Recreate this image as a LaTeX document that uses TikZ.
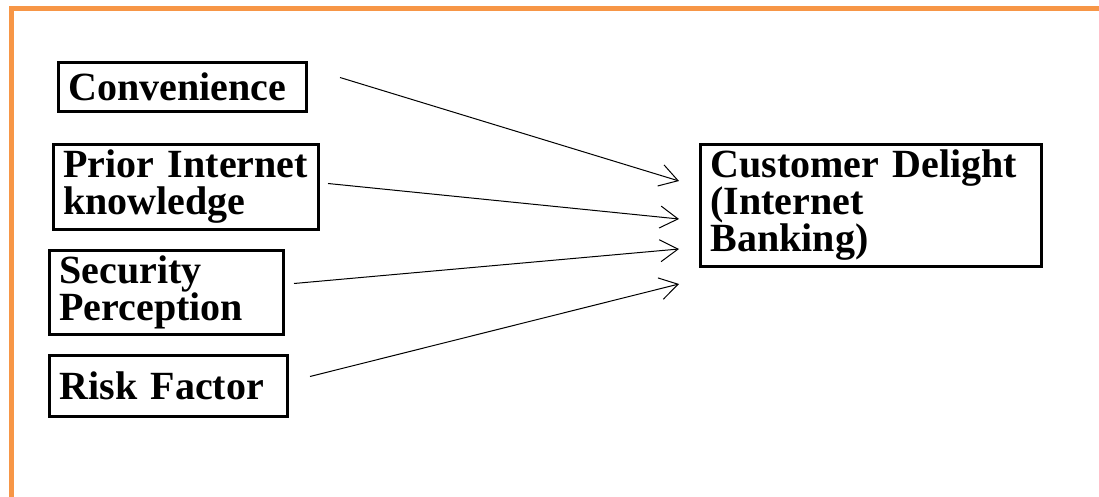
\documentclass[tikz,border=0pt]{standalone}
\usepackage{fontspec}
\setmainfont{Liberation Serif}
\usetikzlibrary{arrows.meta}

\definecolor{frameorange}{HTML}{F79646}

\tikzset{
  factor/.style={draw, line width=1.5pt, anchor=north west, align=left,
    inner xsep=5pt, inner ysep=0pt, font=\fontsize{20}{18.5}\selectfont\bfseries},
  link/.style={line width=0.5pt, -{Straight Barb[length=9pt,width=11pt,line width=0.5pt]}}
}

\begin{document}
\begin{tikzpicture}  % ------ Factors of customer delight --------------
      [x=0.5pt, y=-0.5pt]

    \useasboundingbox (0,0) rectangle (1099,497);

    % orange frame (top and left)
    \draw[frameorange, line width=2.5pt] (11,497) -- (11,8.5) -- (1099,8.5);

    \node[factor, text width=114pt, minimum height=24.5pt] (conv) at (57,61) {Convenience};
    \node[factor, text width=122.5pt, minimum height=42.5pt] (prior) at (52,143) {Prior Internet\\knowledge};
    \node[factor, text width=107pt, minimum height=42pt] (secu) at (48,249) {Security\\Perception};
    \node[factor, text width=109pt, minimum height=30.5pt] (risk) at (48,354) {Risk Factor};
    \node[factor, text width=160.5pt, minimum height=61pt] (delight) at (699,143) {Customer Delight\\(Internet\\Banking)};

    \coordinate (E1) at (679,181);
    \coordinate (E2) at (679,219);
    \coordinate (E3) at (679,249);
    \coordinate (E4) at (679,284);

    \draw[link] ([shift={(32,-9.5)}]conv.east) -- (E1);
    \draw[link] ([shift={(8,-3.5)}]prior.east) -- (E2);
    \draw[link] ([shift={(9,-9)}]secu.east) -- (E3);
    \draw[link] ([shift={(21,-9.5)}]risk.east) -- (E4);
\end{tikzpicture}
\end{document}
